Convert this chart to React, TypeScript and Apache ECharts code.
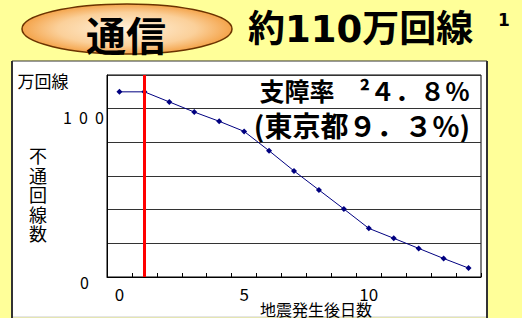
import React, { useEffect, useRef } from 'react';
import * as echarts from 'echarts';

const days = ['0', '1', '2', '3', '4', '5', '6', '7', '8', '9', '10', '11', '12', '13', '14'];
const lines = [110, 110, 104, 98, 92.5, 86.5, 75, 63, 51.7, 40.4, 28.9, 23, 17, 11, 5.3];
const xLabelDays = ['0', '5', '10'];
const yLabels: Record<number, string> = { 0: '{b|0}', 100: '{a|1  0  0}' };
const quakeDay = '1';
const titleBadge = '通信';
const titleText = '約110万回線';
const titleNote = '1';
const unitText = '万回線';
const yNameChars = ['不', '通', '回', '線', '数'];
const xName = '地震発生後日数';
const rateLine1 = '支障率　²４．８％';
const rateLine2 = '(東京都９．３%)';

const CJK = '"Noto Sans CJK JP", "Noto Sans", sans-serif';

export default function App() {
  const ref = useRef<HTMLDivElement>(null);
  useEffect(() => {
    if (!ref.current) return;
    const chart = echarts.init(ref.current, undefined, { renderer: 'svg' });
    const yNameTexts = yNameChars.map((c, i) => ({
      type: 'text',
      x: 38,
      y: 155 + i * 19.5,
      style: { text: c, fontSize: 18, fontFamily: CJK, fill: '#000', align: 'center', verticalAlign: 'middle' },
    }));
    chart.setOption({
      animation: false,
      backgroundColor: '#FFFF99',
      grid: { left: 107, top: 75, right: 41, bottom: 41, show: true, borderColor: '#000', borderWidth: 1, backgroundColor: 'transparent' },
      xAxis: {
        type: 'category',
        data: days,
        boundaryGap: true,
        axisLine: { lineStyle: { color: '#000', width: 1 } },
        axisTick: { show: true, inside: true, length: 4, interval: 0, lineStyle: { color: '#000' } },
        axisLabel: {
          interval: (i: number, v: string) => xLabelDays.includes(v),
          fontSize: 17,
          fontFamily: CJK,
          color: '#000',
          margin: 8,
        },
        splitLine: { show: false },
      },
      yAxis: {
        type: 'value',
        min: 0,
        max: 120,
        interval: 20,
        axisLine: { show: true, lineStyle: { color: '#000', width: 1 } },
        axisTick: { show: false },
        splitLine: { show: true, lineStyle: { color: '#333', width: 1 } },
        axisLabel: {
          margin: 3,
          formatter: (v: number) => yLabels[v] ?? '',
          rich: {
            a: { fontSize: 16, fontFamily: CJK, color: '#000', padding: [17, 0, 0, 0] },
            b: { fontSize: 16, fontFamily: CJK, color: '#000', padding: [9, 15, 0, 0] },
          },
        },
      },
      graphic: [
        { type: 'rect', z: -10, shape: { x: 12, y: 61, width: 475, height: 256 }, style: { fill: '#fff' } },
        { type: 'line', z: -9, shape: { x1: 12, y1: 61, x2: 12, y2: 318 }, style: { stroke: '#333', lineWidth: 2 } },
        { type: 'line', z: -9, shape: { x1: 12, y1: 61, x2: 487, y2: 61 }, style: { stroke: '#333', lineWidth: 1 } },
        { type: 'line', z: -9, shape: { x1: 487, y1: 61, x2: 487, y2: 318 }, style: { stroke: '#333', lineWidth: 2 } },
        { type: 'line', z: -9, shape: { x1: 13, y1: 317, x2: 486, y2: 317 }, style: { stroke: '#ccc', lineWidth: 1 } },
        {
          type: 'ellipse',
          shape: { cx: 127, cy: 29, rx: 105, ry: 25 },
          style: {
            fill: new echarts.graphic.RadialGradient(0.5, 0.5, 0.6, [
              { offset: 0, color: '#fff2dc' },
              { offset: 0.55, color: '#fbd09a' },
              { offset: 1, color: '#f08a1c' },
            ]),
            stroke: '#6b3300',
            lineWidth: 1.5,
          },
        },
        { type: 'text', x: 126, y: 34, style: { text: titleBadge, fontSize: 40, fontWeight: 'bold', fontFamily: CJK, fill: '#000', align: 'center', verticalAlign: 'middle' } },
        { type: 'text', x: 248, y: 29, style: { text: titleText, fontSize: 37, fontWeight: 'bold', fontFamily: '"DejaVu Sans", "Noto Sans CJK JP", sans-serif', fill: '#000', align: 'left', verticalAlign: 'middle' } },
        { type: 'text', x: 504, y: 20, style: { text: titleNote, fontSize: 17, fontWeight: 'bold', fontFamily: '"DejaVu Sans", sans-serif', fill: '#000', align: 'center', verticalAlign: 'middle' } },
        { type: 'text', x: 43, y: 80, style: { text: unitText, fontSize: 17, fontFamily: CJK, fill: '#000', align: 'center', verticalAlign: 'middle' } },
        ...yNameTexts,
        { type: 'text', x: 316, y: 309, style: { text: xName, fontSize: 16, fontFamily: CJK, fill: '#000', align: 'center', verticalAlign: 'middle' } },
        { type: 'text', x: 470, y: 90, style: { text: rateLine1, fontSize: 25, fontWeight: 'bold', fontFamily: CJK, fill: '#000', align: 'right', verticalAlign: 'middle' } },
        { type: 'text', x: 470, y: 125, style: { text: rateLine2, fontSize: 28, fontWeight: 'bold', fontFamily: CJK, fill: '#000', align: 'right', verticalAlign: 'middle' } },
      ],
      series: [
        {
          type: 'line',
          data: lines,
          symbol: 'diamond',
          symbolSize: 6,
          lineStyle: { color: '#000080', width: 1 },
          itemStyle: { color: '#000080' },
          markLine: {
            silent: true,
            symbol: 'none',
            label: { show: false },
            lineStyle: { color: '#ff0000', width: 3, type: 'solid' },
            data: [{ xAxis: quakeDay }],
          },
        },
      ],
    });
    return () => chart.dispose();
  }, []);
  return <div ref={ref} style={{ position: 'fixed', left: 0, top: 0, width: 522, height: 318 }} />;
}
